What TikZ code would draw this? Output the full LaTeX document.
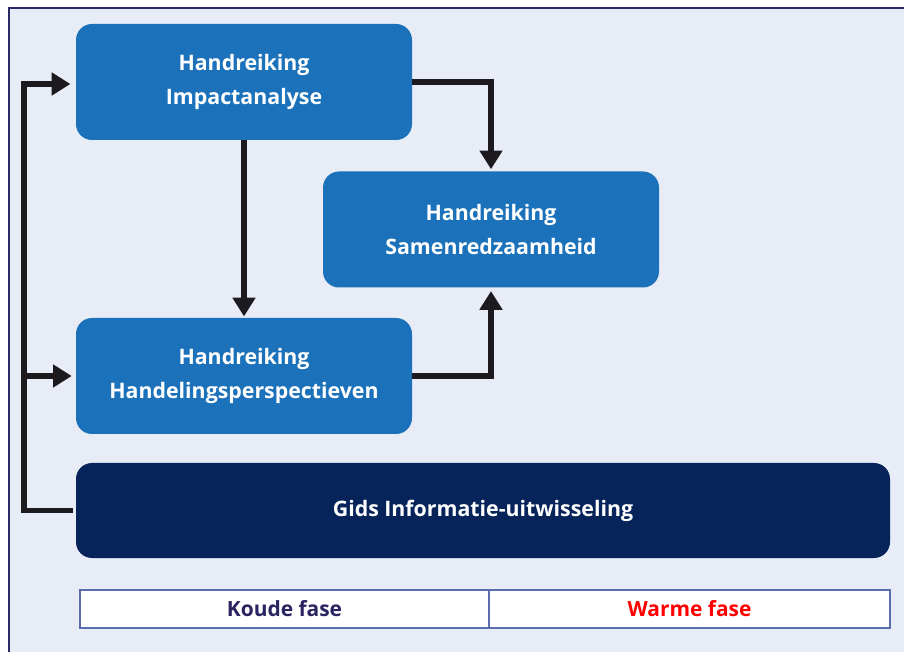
\documentclass[tikz,border=0pt]{standalone}
\usepackage{fontspec}
\setmainfont{Open Sans}
\usetikzlibrary{arrows.meta}
\definecolor{bg}{HTML}{E8ECF7}
\definecolor{bgline}{HTML}{2A2A66}
\definecolor{boxblue}{HTML}{1B72BA}
\definecolor{navy}{HTML}{06245A}
\definecolor{arrowc}{HTML}{1C1A1E}
\definecolor{tabline}{HTML}{5A6EAE}
\definecolor{koude}{HTML}{2B2462}
\definecolor{warm}{HTML}{FF0000}
\begin{document}
\begin{tikzpicture}[x=0.75pt,y=-0.75pt,
  bluebox/.style={fill=boxblue, rounded corners=12pt, minimum width=252pt, minimum height=87pt,
    text=white, font=\fontsize{16}{26}\selectfont\bfseries, align=center, inner sep=0pt},
  navybox/.style={fill=navy, rounded corners=12pt, minimum width=610.5pt, minimum height=71.25pt,
    text=white, font=\fontsize{16}{26}\selectfont\bfseries, inner sep=0pt},
  cell/.style={draw=tabline, line width=0.9pt, fill=white, minimum height=28.5pt,
    font=\fontsize{15.7}{18}\selectfont\bfseries, inner sep=0pt},
  conn/.style={draw=arrowc, line width=4pt},
  arr/.style={conn, -{Triangle[length=14pt,width=16.5pt]}}
]
\useasboundingbox (0,0) rectangle (904,652);
\fill[white] (0,0) rectangle (904,652);
\fill[bg] (9,8) rectangle (904,652);
\draw[bgline, line width=0.8pt] (9,652) -- (9,8) -- (904,8);

\node[bluebox] (imp) at (244,82) {Handreiking\\Impactanalyse};
\node[bluebox] (sam) at (491,229.5) {Handreiking\\Samenredzaamheid};
\node[bluebox] (han) at (244,376) {Handreiking\\Handelingsperspectieven};
\node[navybox] (gid) at (483,510.5) {Gids Informatie-uitwisseling};

\node[cell, text=koude, minimum width=306.75pt] (kou) at (284.5,609) {Koude fase};
\node[cell, text=warm, minimum width=300.75pt] (war) at (689.5,609) {Warme fase};

\draw[arr, shorten >=1.5pt] (imp.east) -| (sam.north);
\draw[arr, shorten >=1pt] (imp.south) -- (han.north);
\draw[arr, shorten >=2.5pt] (han.east) -| (sam.south);

\coordinate (lb) at (24,510.5);
\coordinate (lt) at (24,84);
\coordinate (lm) at (24,376);
\draw[conn, line cap=butt] ([xshift=-2pt]gid.west) -- (lb) -- (lt);
\draw[arr, shorten >=4pt] ([xshift=-2pt]lt) -- (imp.west |- lt);
\draw[arr, shorten >=3pt] (lm) -- (han.west);
\end{tikzpicture}
\end{document}
